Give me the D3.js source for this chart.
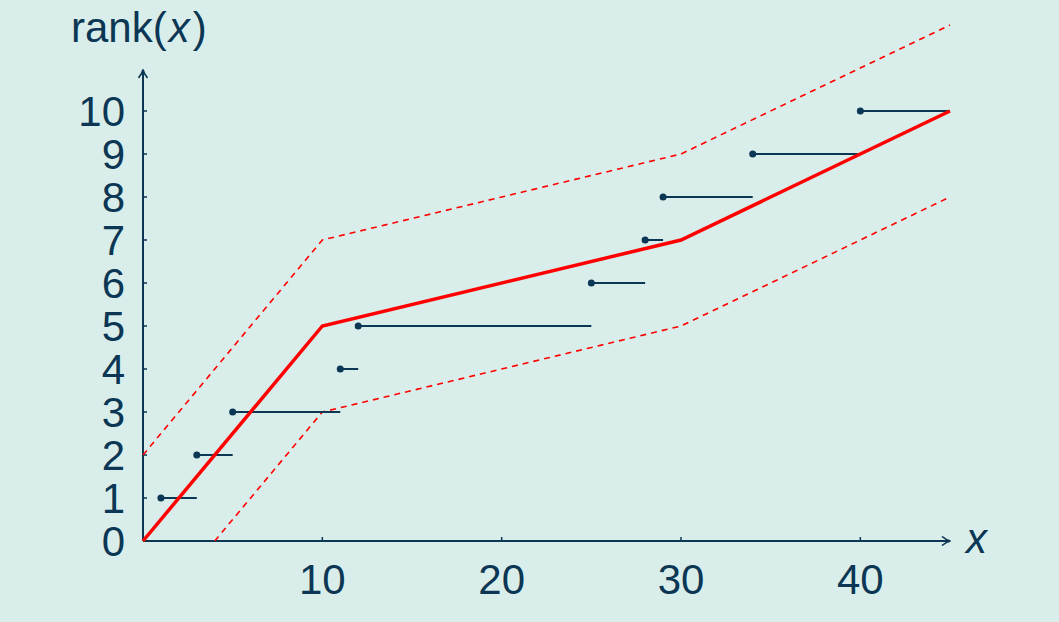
<!DOCTYPE html>
<html>
<head>
<meta charset="utf-8">
<script src="https://cdn.jsdelivr.net/npm/d3@7"></script>
<style>
  body { margin: 0; background: #d9eeea; }
  svg { display: block; font-family: "Liberation Sans", Arial, sans-serif; }
</style>
</head>
<body>
<svg id="chart" width="1059" height="622"></svg>
<script>
// sample points: value, rank, and where the step ends
var stepX = [1, 3, 5, 11, 12, 25, 28, 29, 34, 40];
var stepRank = [1, 2, 3, 4, 5, 6, 7, 8, 9, 10];
var stepEnd = [3, 5, 11, 12, 25, 28, 29, 34, 40, 45];

// fitted line and band
var fitX = [0, 10, 30, 45];
var fitY = [0, 5, 7, 10];
var upperX = [0, 10, 30, 45];
var upperY = [2, 7, 9, 12];
var lowerX = [4, 10, 30, 45];
var lowerY = [0, 3, 5, 8];

var xTicks = [10, 20, 30, 40];
var yTicks = [0, 1, 2, 3, 4, 5, 6, 7, 8, 9, 10];

var ink = "#0b3654";
var fs = 42;
var svg = d3.select("#chart");

var x = d3.scaleLinear().domain([0, 45]).range([143, 950]);
var y = d3.scaleLinear().domain([0, 10]).range([541, 111]);

// arrow marker
svg.append("defs").append("marker")
    .attr("id", "arr")
    .attr("viewBox", "0 0 10 10")
    .attr("refX", 9).attr("refY", 5)
    .attr("markerWidth", 10).attr("markerHeight", 10)
    .attr("markerUnits", "userSpaceOnUse")
    .attr("orient", "auto")
    .append("path")
    .attr("d", "M1,0.5 Q5,4 9.5,5 Q5,6 1,9.5")
    .attr("fill", "none")
    .attr("stroke", ink)
    .attr("stroke-width", 1.6);

// axes
svg.append("line")
    .attr("x1", x(0)).attr("y1", y(0))
    .attr("x2", x(45)).attr("y2", y(0))
    .attr("stroke", ink).attr("stroke-width", 2)
    .attr("marker-end", "url(#arr)");
svg.append("line")
    .attr("x1", x(0)).attr("y1", y(0))
    .attr("x2", x(0)).attr("y2", 70)
    .attr("stroke", ink).attr("stroke-width", 2)
    .attr("marker-end", "url(#arr)");

// ticks
svg.selectAll(".xt").data(xTicks).enter().append("line")
    .attr("x1", function(d){ return x(d); })
    .attr("x2", function(d){ return x(d); })
    .attr("y1", y(0)).attr("y2", y(0) - 4)
    .attr("stroke", ink).attr("stroke-width", 1.5);
svg.selectAll(".yt").data(yTicks).enter().append("line")
    .attr("x1", x(0)).attr("x2", x(0) + 4)
    .attr("y1", function(d){ return y(d); })
    .attr("y2", function(d){ return y(d); })
    .attr("stroke", ink).attr("stroke-width", 1.5);

svg.selectAll(".xl").data(xTicks).enter().append("text")
    .attr("x", function(d){ return x(d); })
    .attr("y", 594)
    .attr("text-anchor", "middle")
    .attr("font-size", fs)
    .attr("fill", ink)
    .text(function(d){ return d; });
svg.selectAll(".yl").data(yTicks).enter().append("text")
    .attr("x", 125)
    .attr("y", function(d){ return y(d) + 15; })
    .attr("text-anchor", "end")
    .attr("font-size", fs)
    .attr("fill", ink)
    .text(function(d){ return d; });

// axis titles
var t = svg.append("text")
    .attr("x", 71).attr("y", 42)
    .attr("font-size", fs)
    .attr("fill", ink);
t.append("tspan").text("rank(");
t.append("tspan").attr("font-style", "italic").attr("dx", 2).text("x");
t.append("tspan").attr("dx", 3).text(")");

svg.append("text")
    .attr("x", 966).attr("y", 553)
    .attr("font-size", fs)
    .attr("font-style", "italic")
    .attr("fill", ink)
    .text("x");

// lines
var line = d3.line()
    .x(function(d){ return x(d[0]); })
    .y(function(d){ return y(d[1]); });

svg.append("path")
    .attr("d", line(d3.zip(upperX, upperY)))
    .attr("fill", "none").attr("stroke", "#ff0000")
    .attr("stroke-width", 1.6).attr("stroke-dasharray", "6,5");
svg.append("path")
    .attr("d", line(d3.zip(lowerX, lowerY)))
    .attr("fill", "none").attr("stroke", "#ff0000")
    .attr("stroke-width", 1.6).attr("stroke-dasharray", "6,5");

// steps
svg.selectAll(".st").data(stepX).enter().append("line")
    .attr("x1", function(d){ return x(d); })
    .attr("x2", function(d, i){ return x(stepEnd[i]); })
    .attr("y1", function(d, i){ return y(stepRank[i]); })
    .attr("y2", function(d, i){ return y(stepRank[i]); })
    .attr("stroke", ink).attr("stroke-width", 2);
svg.selectAll(".dot").data(stepX).enter().append("circle")
    .attr("cx", function(d){ return x(d); })
    .attr("cy", function(d, i){ return y(stepRank[i]); })
    .attr("r", 3.5)
    .attr("fill", ink);

svg.append("path")
    .attr("d", line(d3.zip(fitX, fitY)))
    .attr("fill", "none").attr("stroke", "#ff0000")
    .attr("stroke-width", 3.5);
</script>
</body>
</html>
